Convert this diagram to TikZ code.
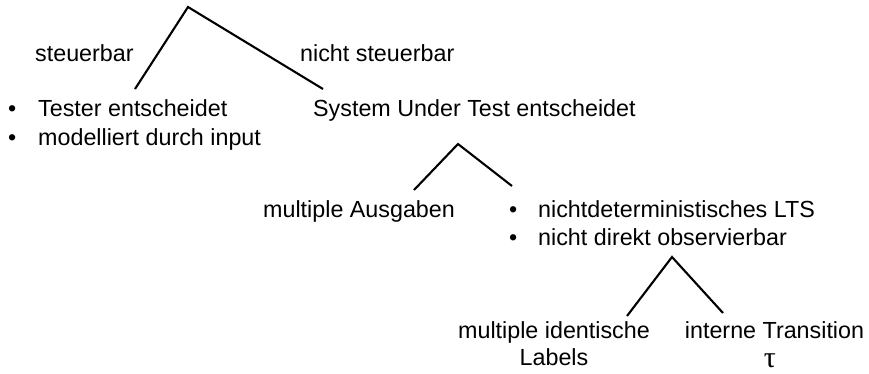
\documentclass[tikz,border=0pt]{standalone}
\usepackage{fontspec}
\setmainfont{Liberation Sans}
\newfontfamily\taufont{Liberation Serif}
\begin{document}
\begin{tikzpicture}[x=1pt,y=-1pt,
  lbl/.style={anchor=base west,inner sep=0pt,font=\fontsize{23.3}{28}\selectfont},
  ctr/.style={anchor=base,inner sep=0pt,font=\fontsize{23.3}{28}\selectfont},
  branch/.style={line width=2.1pt,line join=miter}]
\useasboundingbox (0,0) rectangle (869,373);

% first split
\coordinate (r0) at (188,7);
\coordinate (r0l) at (135,89);
\coordinate (r0r) at (323,89);
\draw[branch] (r0l) -- (r0) -- (r0r);
\node[lbl] (steu) at (35,61) {steuerbar};
\node[lbl] (nsteu) at (300,61) {nicht steuerbar};

\node[lbl] (b1) at (8,116.7) {\textbullet};
\node[lbl] (tester) at (38,116.7) {Tester entscheidet};
\node[lbl] (b2) at (8,145) {\textbullet};
\node[lbl] (input) at (38,145) {modelliert durch input};
\node[lbl] (sut) at (313,116.7) {System Under Test entscheidet};

% second split
\coordinate (r1) at (458,144);
\coordinate (r1l) at (414,190);
\coordinate (r1r) at (512,186);
\draw[branch] (r1l) -- (r1) -- (r1r);
\node[lbl] (ausg) at (263,217) {multiple Ausgaben};
\node[lbl] (b3) at (509,217) {\textbullet};
\node[lbl] (lts) at (538,217) {nichtdeterministisches LTS};
\node[lbl] (b4) at (509,245) {\textbullet};
\node[lbl] (obs) at (538,245) {nicht direkt observierbar};

% third split
\coordinate (r2) at (672,257);
\coordinate (r2l) at (627,316);
\coordinate (r2r) at (723,313);
\draw[branch] (r2l) -- (r2) -- (r2r);
\node[ctr] (ident) at (554,338) {multiple identische};
\node[ctr] (labels) at (554,365) {Labels};
\node[ctr] (intern) at (774.5,338) {interne Transition};
\node[ctr,font=\taufont\fontsize{30}{34}\selectfont] (tau) at (770,367) {τ};
\end{tikzpicture}
\end{document}
